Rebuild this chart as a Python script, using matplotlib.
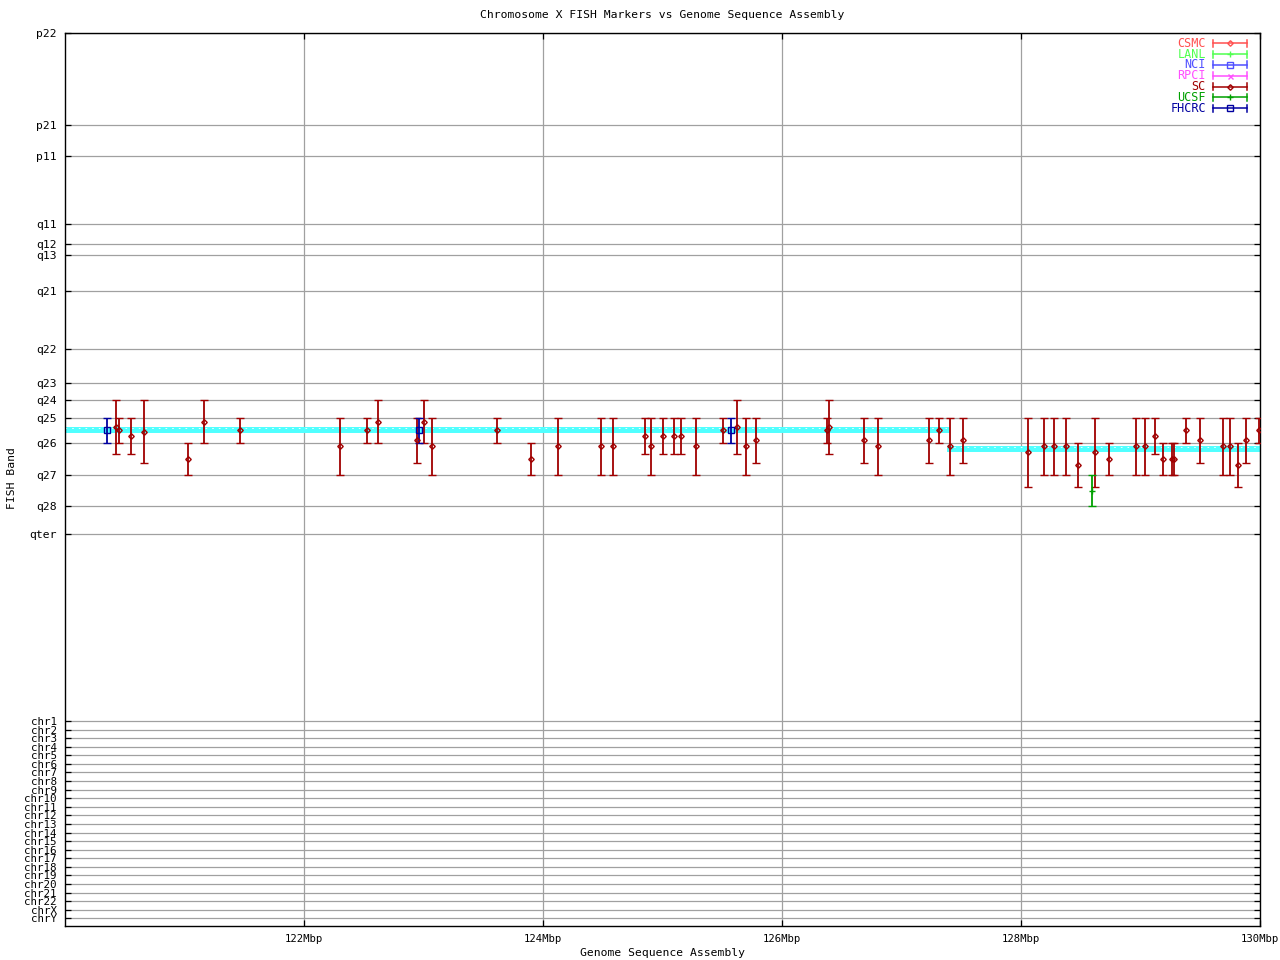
import numpy as np
import matplotlib
matplotlib.use("Agg")
import matplotlib.pyplot as plt

# ---------------- data ----------------
# y axis: cytogenetic band position units (0 = p22 at top, increasing downward)
band_labels = ["p22", "p21", "p11", "q11", "q12", "q13", "q21", "q22",
               "q23", "q24", "q25", "q26", "q27", "q28", "qter"]
band_pos = [0, 92, 123, 191, 211, 222, 258, 316, 350, 367, 385, 410, 442, 473, 501]

chr_labels = ["chr1", "chr2", "chr3", "chr4", "chr5", "chr6", "chr7", "chr8",
              "chr9", "chr10", "chr11", "chr12", "chr13", "chr14", "chr15",
              "chr16", "chr17", "chr18", "chr19", "chr20", "chr21", "chr22",
              "chrX", "chrY"]
chr_first_pos = 688
chr_step = 8.58

x_ticks = [122, 124, 126, 128, 130]
x_ticklabels = ["122Mbp", "124Mbp", "126Mbp", "128Mbp", "130Mbp"]

# SC markers: genome position (Mbp), band centre, band low, band high
sc_x = [120.424, 120.449, 120.552, 120.664, 121.032, 121.166, 121.467, 122.305,
        122.525, 122.622, 122.948, 123.007, 123.074, 123.618, 123.902, 124.128,
        124.488, 124.588, 124.856, 124.906, 125.007, 125.099, 125.157, 125.283,
        125.509, 125.626, 125.701, 125.785, 126.379, 126.396, 126.689, 126.806,
        127.233, 127.316, 127.408, 127.517, 128.061, 128.195, 128.279, 128.379,
        128.480, 128.622, 128.739, 128.965, 129.040, 129.124, 129.191, 129.266,
        129.279, 129.383, 129.501, 129.690, 129.751, 129.818, 129.885, 129.994]
sc_y = [394, 397, 403, 399, 426, 389, 397, 413,
        397, 389, 407, 389, 413, 397, 426, 413,
        413, 413, 403, 413, 403, 403, 403, 413,
        397, 394, 413, 407, 397, 394, 407, 413,
        407, 397, 413, 407, 419, 413, 413, 413,
        432, 419, 426, 413, 413, 403, 426, 426,
        426, 397, 407, 413, 413, 432, 407, 397]
sc_lo = [367, 385, 385, 367, 410, 367, 385, 385,
         385, 367, 385, 367, 385, 385, 410, 385,
         385, 385, 385, 385, 385, 385, 385, 385,
         385, 367, 385, 385, 385, 367, 385, 385,
         385, 385, 385, 385, 385, 385, 385, 385,
         410, 385, 410, 385, 385, 385, 410, 410,
         410, 385, 385, 385, 385, 410, 385, 385]
sc_hi = [421, 410, 421, 430, 442, 410, 410, 442,
         410, 410, 430, 410, 442, 410, 442, 442,
         442, 442, 421, 442, 421, 421, 421, 442,
         410, 421, 442, 430, 410, 421, 430, 442,
         430, 410, 442, 430, 454, 442, 442, 442,
         454, 454, 442, 442, 442, 421, 442, 442,
         442, 410, 430, 442, 442, 454, 430, 410]

fhcrc_x = [120.354, 122.965, 125.576]
fhcrc_y = [397, 397, 397]
fhcrc_lo = [385, 385, 385]
fhcrc_hi = [410, 410, 410]

ucsf_x = [128.597]
ucsf_y = [458]
ucsf_lo = [442]
ucsf_hi = [473]

# sequence assembly band assignment (cyan line): x start, x end, band position
assembly_x0 = [120.0, 127.381]
assembly_x1 = [127.406, 130.0]
assembly_y = [397, 416]

# legend series
legend_names = ["CSMC", "LANL", "NCI", "RPCI", "SC", "UCSF", "FHCRC"]
legend_colors = ["#ff5050", "#50ff50", "#5050ff", "#ff50ff", "#a00000", "#00a000", "#0000a0"]
legend_markers = ["D", "+", "s", "x", "D", "+", "s"]

# ---------------- figure ----------------
W, H = 1280, 960
fig = plt.figure(figsize=(W / 100, H / 100), dpi=100)
ax_l, ax_r, ax_t, ax_b = 65, 1260, 33, 926
ax = fig.add_axes([ax_l / W, 1 - ax_b / H, (ax_r - ax_l) / W, (ax_b - ax_t) / H])

FONT = "DejaVu Sans Mono"
FS = 8.2

ax.set_xlim(120, 130)
ax.set_ylim(893, 0)

grid_color = "#a0a0a0"
chr_pos = [chr_first_pos + chr_step * i for i in range(len(chr_labels))]
all_ypos = band_pos + chr_pos
all_ylab = band_labels + chr_labels

for yp in all_ypos:
    ax.axhline(yp, color=grid_color, lw=0.9, zorder=1)
for xt in x_ticks:
    ax.axvline(xt, color=grid_color, lw=0.9, zorder=1)

ax.set_yticks(all_ypos)
ax.set_yticklabels(all_ylab, fontfamily=FONT, fontsize=FS)
for lab in ax.get_yticklabels()[len(band_labels):]:
    lab.set_fontsize(FS - 0.4)
ax.set_xticks(x_ticks)
ax.set_xticklabels(x_ticklabels, fontfamily=FONT, fontsize=FS - 0.6)
ax.tick_params(direction="in", length=4, width=0.9, top=True, right=True,
               labeltop=False, labelright=False)
ax.tick_params(axis="y", pad=6)
ax.tick_params(axis="x", pad=6)
for s in ax.spines.values():
    s.set_linewidth(1.0)
    s.set_color("black")

# assembly cyan line
for x0, x1, y in zip(assembly_x0, assembly_x1, assembly_y):
    ax.plot([x0, x1], [y, y], color="#50ffff", lw=4.3, solid_capstyle="butt", zorder=2)
    ax.plot([x0, x1], [y - 1.8, y - 1.8], color="white", lw=0.6,
            dashes=(2, 6), zorder=2.1)

def draw(xs, ys, lo, hi, color, marker, ms):
    xs = np.asarray(xs); ys = np.asarray(ys)
    err = [ys - np.asarray(lo), np.asarray(hi) - ys]
    ax.errorbar(xs, ys, yerr=err, fmt=marker, color=color, ecolor=color,
                elinewidth=1.3, capsize=2.6, capthick=1.3, markersize=ms,
                mfc="none", mec=color, mew=1.0, zorder=3)

draw(sc_x, sc_y, sc_lo, sc_hi, legend_colors[4], "D", 2.8)
draw(fhcrc_x, fhcrc_y, fhcrc_lo, fhcrc_hi, legend_colors[6], "s", 4.3)
draw(ucsf_x, ucsf_y, ucsf_lo, ucsf_hi, legend_colors[5], "+", 5)

# ---------------- manual gnuplot-style legend ----------------
def px2ax(px, py):
    return (px - ax_l) / (ax_r - ax_l), (ax_b - py) / (ax_b - ax_t)

leg_top, leg_step = 43.3, 10.8
text_right, line_x0, line_x1 = 1206, 1213, 1247
for i, (nm, col, mk) in enumerate(zip(legend_names, legend_colors, legend_markers)):
    py = leg_top + i * leg_step
    tx, ty = px2ax(text_right, py)
    ax.text(tx, ty, nm, transform=ax.transAxes, ha="right", va="center",
            color=col, fontfamily=FONT, fontsize=FS + 0.3, zorder=5)
    ax0, ay = px2ax(line_x0, py)
    ax1, _ = px2ax(line_x1, py)
    _, cap_hi = px2ax(0, py - 3.5)
    _, cap_lo = px2ax(0, py + 3.5)
    ax.plot([ax0, ax1], [ay, ay], color=col, lw=1.1, transform=ax.transAxes, zorder=5)
    for cx in (ax0, ax1):
        ax.plot([cx, cx], [cap_lo, cap_hi], color=col, lw=1.1,
                transform=ax.transAxes, zorder=5)
    ms = {"D": 2.8, "s": 4.0, "x": 3.6, "+": 5}[mk]
    ax.plot([(ax0 + ax1) / 2], [ay], marker=mk, ms=ms,
            mfc="none", mec=col, mew=1.0, color=col, transform=ax.transAxes, zorder=5)

# ---------------- texts ----------------
fig.text((ax_l + ax_r) / 2 / W, 1 - 15 / H,
         "Chromosome X FISH Markers vs Genome Sequence Assembly",
         ha="center", va="center", fontfamily=FONT, fontsize=FS)
fig.text((ax_l + ax_r) / 2 / W, 1 - 953 / H, "Genome Sequence Assembly",
         ha="center", va="center", fontfamily=FONT, fontsize=FS)
fig.text(12 / W, 1 - 478 / H, "FISH Band", rotation=90,
         ha="center", va="center", fontfamily=FONT, fontsize=FS)

fig.savefig("out.png", dpi=100, facecolor="white")
